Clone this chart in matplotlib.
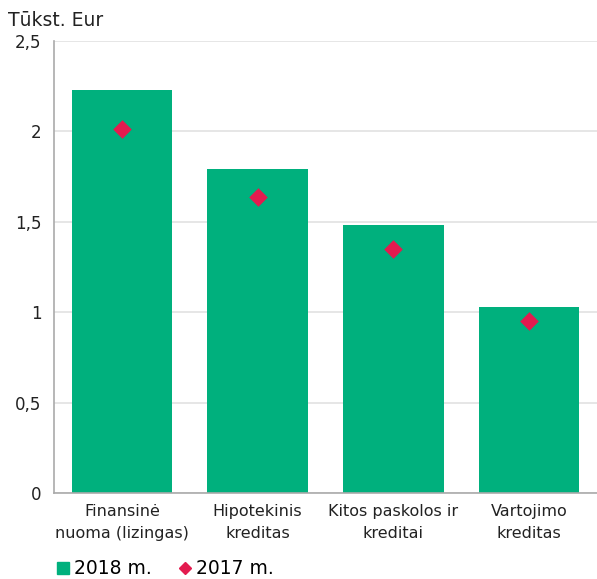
import matplotlib
matplotlib.use("Agg")
import matplotlib.pyplot as plt
from matplotlib.lines import Line2D
import numpy as np

# --- Duomenys ---
categories = ["Finansinė\nnuoma (lizingas)", "Hipotekinis\nkreditas",
              "Kitos paskolos ir\nkreditai", "Vartojimo\nkreditas"]
values_2018 = [2.23, 1.79, 1.485, 1.03]
values_2017 = [2.015, 1.64, 1.35, 0.95]
yticks = [0, 0.5, 1, 1.5, 2, 2.5]
ytick_labels = ["0", "0,5", "1", "1,5", "2", "2,5"]

GREEN = "#00b07d"
RED = "#e31b4f"

plt.rcParams["font.family"] = ["DejaVu Sans"]

fig = plt.figure(figsize=(5.97, 5.79), dpi=100)
ax = fig.add_axes([0.0905, 0.1485, 0.9095, 0.7805])

x = np.arange(len(categories))
ax.bar(x, values_2018, width=0.74, color=GREEN, zorder=2)
ax.scatter(x, values_2017, marker="D", s=90, color=RED, zorder=3, linewidths=0)

ax.set_xlim(-0.5, 3.5)
ax.set_ylim(0, 2.5)
ax.set_yticks(yticks)
ax.set_yticklabels(ytick_labels, fontsize=12, color="#222222")
ax.set_xticks(x)
ax.set_xticklabels(categories, fontsize=11.5, color="#222222", linespacing=1.55)
ax.tick_params(axis="y", length=0, pad=9)
ax.tick_params(axis="x", length=0, pad=8)

ax.grid(axis="y", color="#e2e2e2", linewidth=1.2, zorder=0)
ax.set_axisbelow(True)
for s in ["top", "right"]:
    ax.spines[s].set_visible(False)
ax.spines["left"].set_color("#aaaaaa")
ax.spines["bottom"].set_color("#aaaaaa")
ax.spines["left"].set_linewidth(1.2)
ax.spines["bottom"].set_linewidth(1.2)

fig.text(8 / 597, 1 - 20 / 579, "Tūkst. Eur", fontsize=13.5, va="center", ha="left",
         color="#222222")

handles = [
    Line2D([], [], marker="s", linestyle="none", color=GREEN, markersize=8),
    Line2D([], [], marker="D", linestyle="none", color=RED, markersize=6),
]
fig.legend(handles, ["2018 m.", "2017 m."], loc="center left",
           bbox_to_anchor=(46 / 597, 1 - 569 / 579), ncol=2, frameon=False,
           fontsize=13.5, handletextpad=0.1, columnspacing=1.25, borderaxespad=0,
           handlelength=1.0)

fig.savefig("out.png", dpi=100)
